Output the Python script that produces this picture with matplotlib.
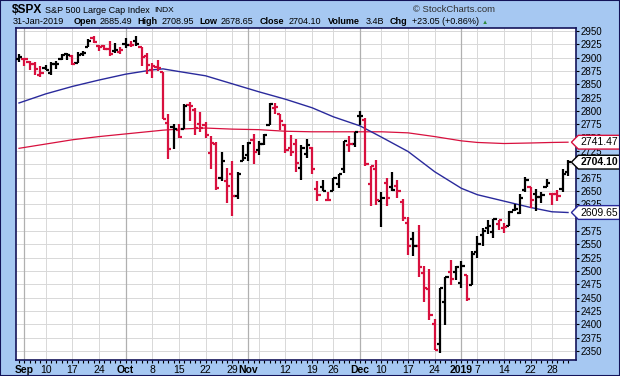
import matplotlib
matplotlib.use("Agg")
import matplotlib.pyplot as plt
from matplotlib.path import Path
from matplotlib.patches import Rectangle
import numpy as np

plt.rcParams['font.family'] = ['Liberation Sans', 'DejaVu Sans']

# Daily OHLC, Aug 31 2018 .. Jan 31 2019 (one entry per trading day)
opens = [
    2898.37,
    2896.96, 2891.59, 2888.64, 2868.26,
    2881.39, 2871.57, 2888.29, 2896.85, 2906.38,
    2903.83, 2890.74, 2906.60, 2919.73, 2936.76,
    2921.83, 2921.75, 2916.98, 2911.65, 2910.03,
    2926.29, 2923.80, 2931.69, 2919.35, 2902.54,
    2877.53, 2882.51, 2873.90, 2776.87, 2770.54,
    2763.83, 2767.05, 2811.67, 2802.00, 2775.66,
    2773.94, 2721.03, 2737.87, 2674.88, 2667.86,
    2682.65, 2640.68, 2705.60,
    2717.58, 2745.45,
    2726.37, 2738.40, 2774.13, 2806.38, 2794.10,
    2773.93, 2730.05, 2737.90, 2693.52, 2718.54,
    2730.74, 2654.60, 2657.74, 2633.36,
    2649.97, 2663.75, 2691.45, 2736.97, 2737.76,
    2790.50, 2782.43, 2663.51, 2691.26,
    2630.86, 2664.44, 2658.23, 2658.70, 2629.68,
    2590.75, 2559.90, 2547.05, 2496.77, 2465.38,
    2400.56, 2363.12, 2442.50, 2498.77,
    2498.94,
    2476.96, 2491.92, 2474.33,
    2535.61, 2568.11, 2580.00, 2573.51, 2588.11,
    2580.31, 2585.10, 2614.75, 2609.28, 2651.27,
    2657.88, 2643.48, 2638.84, 2657.44,
    2644.97, 2644.89, 2653.62, 2685.49,
]
highs = [
    2906.32,
    2900.18, 2894.21, 2892.05, 2883.81,
    2886.93, 2892.52, 2894.65, 2906.76, 2908.30,
    2904.65, 2911.17, 2912.36, 2934.80, 2940.91,
    2923.79, 2923.95, 2931.15, 2927.22, 2920.53,
    2937.06, 2931.42, 2939.86, 2919.78, 2909.64,
    2889.45, 2894.83, 2874.02, 2795.14, 2775.77,
    2775.99, 2813.46, 2816.94, 2806.04, 2797.77,
    2778.94, 2753.59, 2742.59, 2722.70, 2692.38,
    2706.85, 2685.43, 2736.69,
    2741.67, 2756.55,
    2744.27, 2756.82, 2815.15, 2814.75, 2794.10,
    2775.99, 2754.60, 2746.80, 2735.38, 2746.75,
    2733.16, 2669.44, 2670.73, 2647.55,
    2674.35, 2682.53, 2744.00, 2753.75, 2760.88,
    2800.18, 2785.93, 2696.15, 2708.54,
    2647.51, 2674.35, 2685.44, 2670.19, 2635.07,
    2601.13, 2573.99, 2585.29, 2509.63, 2504.41,
    2410.34, 2467.76, 2489.10, 2520.27,
    2509.24,
    2519.49, 2493.14, 2538.07,
    2566.16, 2579.82, 2595.32, 2597.82, 2596.27,
    2589.32, 2613.08, 2625.76, 2645.06, 2675.47,
    2657.88, 2653.19, 2647.20, 2672.38,
    2644.97, 2650.93, 2690.44, 2708.95,
]
lows = [
    2891.73,
    2885.13, 2876.92, 2867.29, 2864.12,
    2875.94, 2866.78, 2879.20, 2896.39, 2895.77,
    2886.16, 2890.43, 2903.82, 2919.73, 2927.11,
    2912.63, 2913.70, 2903.28, 2909.27, 2907.50,
    2917.91, 2919.37, 2921.36, 2883.92, 2869.29,
    2862.08, 2874.27, 2784.86, 2710.51, 2729.44,
    2749.03, 2766.91, 2781.81, 2755.18, 2760.27,
    2749.22, 2691.43, 2651.89, 2667.84, 2628.16,
    2603.54, 2635.34, 2705.60,
    2705.89, 2700.44,
    2717.94, 2737.08, 2774.13, 2794.99, 2764.24,
    2722.00, 2714.98, 2685.75, 2670.75, 2712.16,
    2681.09, 2631.52, 2649.82, 2631.09,
    2649.97, 2655.89, 2684.38, 2722.94, 2732.76,
    2773.38, 2697.18, 2621.53, 2623.14,
    2583.23, 2621.30, 2650.26, 2637.27, 2593.84,
    2530.54, 2528.71, 2488.96, 2441.18, 2408.55,
    2351.10, 2346.58, 2397.94, 2472.89,
    2482.82,
    2467.47, 2443.96, 2474.33,
    2524.56, 2547.56, 2568.89, 2562.02, 2577.40,
    2570.41, 2585.10, 2612.68, 2606.36, 2647.58,
    2617.27, 2612.86, 2627.01, 2657.33,
    2624.06, 2631.05, 2648.34, 2678.65,
]
closes = [
    2901.52,
    2896.72, 2888.60, 2878.05, 2871.68,
    2877.13, 2887.89, 2888.92, 2904.18, 2904.98,
    2888.80, 2904.31, 2907.95, 2930.75, 2929.67,
    2919.37, 2915.56, 2905.97, 2914.00, 2913.98,
    2924.59, 2923.43, 2925.51, 2901.61, 2885.57,
    2884.43, 2880.34, 2785.68, 2728.37, 2767.13,
    2750.79, 2809.92, 2809.21, 2768.78, 2767.78,
    2755.88, 2740.69, 2656.10, 2705.57, 2658.69,
    2641.25, 2682.63, 2711.74,
    2740.37, 2723.06,
    2738.31, 2755.45, 2813.89, 2806.83, 2781.01,
    2726.22, 2722.18, 2701.58, 2730.20, 2736.27,
    2690.73, 2641.89, 2649.93, 2632.56,
    2673.45, 2682.17, 2743.79, 2737.80, 2760.17,
    2790.37, 2700.06, 2695.95, 2633.08,
    2637.72, 2636.78, 2651.07, 2650.54, 2599.95,
    2545.94, 2546.16, 2506.96, 2467.42, 2416.62,
    2351.10, 2467.70, 2488.83, 2485.74,
    2506.85,
    2510.03, 2447.89, 2531.94,
    2549.69, 2574.41, 2584.96, 2596.64, 2596.26,
    2582.61, 2610.30, 2616.10, 2635.96, 2670.71,
    2632.90, 2638.70, 2642.33, 2664.76,
    2643.85, 2640.00, 2681.05, 2704.10,
]
prev_close = 2901.13  # Aug 30 close, decides colour of first bar

# moving averages at weekly bar positions
ma_idx = [0, 5, 10, 15, 20, 25, 27, 30, 35, 40, 45, 50, 55, 59, 64, 68, 73, 78, 83, 86, 91, 96, 100, 103]
ma50 = [2815, 2832, 2846, 2858, 2869, 2877, 2879, 2874, 2866, 2851, 2836, 2822, 2806, 2789,
        2772, 2751, 2724, 2686, 2655, 2643, 2631, 2619, 2611, 2609.65]
ma200 = [2730, 2738, 2746, 2752, 2757, 2762, 2764, 2766, 2768, 2766, 2765, 2762, 2761, 2761,
         2761, 2761, 2759, 2752, 2744, 2741, 2739, 2740, 2741, 2741.47]

tick_idx = [1, 5, 10, 15, 20, 25, 30, 35, 40, 43, 50, 55, 59, 64, 68, 73, 78, 83, 86, 91, 96, 100]
tick_lab = ["Sep", "10", "17", "24", "Oct", "8", "15", "22", "29", "Nov", "12", "19", "26",
            "Dec", "10", "17", "24", "2019", "7", "14", "22", "28"]
month_idx = [1, 20, 43, 64, 83]
week_idx = [5, 10, 15, 25, 30, 35, 40, 45, 50, 55, 59, 68, 73, 78, 86, 91, 96, 100]
y_ticks = list(range(2350, 2951, 25))
y_hidden = [2700, 2600]  # covered by the value tags

RED = '#d8103e'
BLUE = '#2a2a9c'
NAVY = '#14145a'
BG = '#a6c8f2'

fig = plt.figure(figsize=(6.2, 3.76), dpi=100)
fig.patch.set_facecolor(BG)
ax = fig.add_axes([16 / 620, 16 / 376, 560 / 620, 332 / 376])
ax.set_facecolor('white')

x = np.arange(len(closes))
o = np.array(opens); h = np.array(highs); l = np.array(lows); c = np.array(closes)
prev = np.concatenate([[prev_close], c[:-1]])
cols = np.where(c >= prev, 'black', RED)

# grid
for v in y_ticks:
    ax.axhline(v, color='#d8d8d8', lw=0.7, zorder=0)
for v in week_idx:
    ax.axvline(v, color='#d8d8d8', lw=0.7, zorder=0)
for v in month_idx:
    ax.axvline(v, color='#b0b0b0', lw=0.9, zorder=0)

# moving averages
ax.plot(ma_idx, ma200, color=RED, lw=0.9, zorder=2)
ax.plot(ma_idx, ma50, color=BLUE, lw=1.0, zorder=2)

# OHLC bars
w = 0.6
ax.vlines(x, l, h, colors=cols, lw=1.6, zorder=3)
ax.hlines(o, x - w, x, colors=cols, lw=1.6, zorder=3)
ax.hlines(c, x, x + w, colors=cols, lw=1.6, zorder=3)

ax.set_xlim(-0.56, 104.5)
ax.set_ylim(2333.1, 2955.6)

ax.yaxis.tick_right()
ax.set_yticks(y_ticks)
ax.set_yticklabels(['' if v in y_hidden else str(v) for v in y_ticks])
ax.tick_params(axis='y', labelsize=7, length=2.5, width=0.8, pad=1, colors='black')
ax.set_xticks(tick_idx)
ax.set_xticklabels(tick_lab)
ax.set_xticks(x, minor=True)
ax.tick_params(axis='x', which='both', length=1.8, width=0.8, pad=1.5, labelsize=7.5)
for t in ax.get_xticklabels():
    if not t.get_text().isdigit() or t.get_text() == "2019":
        t.set_fontweight('bold')

for s in ax.spines.values():
    s.set_color(NAVY)
    s.set_linewidth(1.2)


def tag_box(x0, y0, width, height, mutation_size):
    pad = 0.18 * mutation_size
    x0, y0 = x0 - pad, y0 - pad
    ww, hh = width + 2 * pad, height + 2 * pad
    tip = hh * 0.5
    verts = [(x0 - tip, y0 + hh / 2), (x0, y0 + hh), (x0 + ww, y0 + hh), (x0 + ww, y0),
             (x0, y0), (x0 - tip, y0 + hh / 2)]
    return Path(verts, [Path.MOVETO] + [Path.LINETO] * 4 + [Path.CLOSEPOLY])


tags = [(ma200[-1], RED, 'normal'), (closes[-1], 'black', 'bold'), (ma50[-1], BLUE, 'normal')]
for val, ec, fw in tags:
    ax.annotate(f"{val:.2f}", xy=(1.0, val), xycoords=('axes fraction', 'data'),
                xytext=(3, 0), textcoords='offset points', va='center', ha='left',
                fontsize=7.5, fontweight=fw, zorder=6, annotation_clip=False,
                bbox=dict(boxstyle=tag_box, fc='white', ec=ec, lw=1.0))

# header
def px(xp, yp):
    return xp / 620, 1 - yp / 376

fig.text(*px(12, 10), "$SPX", fontsize=8.6, fontweight='bold', va='center')
fig.text(*px(45, 10.5), "S&P 500 Large Cap Index", fontsize=6.5, va='center')
fig.text(*px(154, 10.5), "INDX", fontsize=6.0, va='center')
fig.text(*px(413, 10), "© StockCharts.com", fontsize=6.8, va='center', color='#303030')
fig.text(*px(13, 22), "31-Jan-2019", fontsize=6.6, va='center')
pieces = [(74, "Open", True), (100, "2685.49", False), (137, "High", True), (162, "2708.95", False),
          (199, "Low", True), (221, "2678.65", False), (260, "Close", True), (289, "2704.10", False),
          (328, "Volume", True), (366, "3.4B", False), (390, "Chg", True), (412, "+23.05 (+0.86%)", False)]
for xp, s, b in pieces:
    fig.text(*px(xp, 22), s, fontsize=6.5, va='center', fontweight='bold' if b else 'normal')
fig.text(*px(482, 22), "▲", fontsize=4.5, va='center', color='#2e8b3a')

fig.add_artist(Rectangle((0, 0), 1, 1, transform=fig.transFigure, fill=False,
                         ec=NAVY, lw=1.5))

fig.savefig("out.png", dpi=100, facecolor=BG)
